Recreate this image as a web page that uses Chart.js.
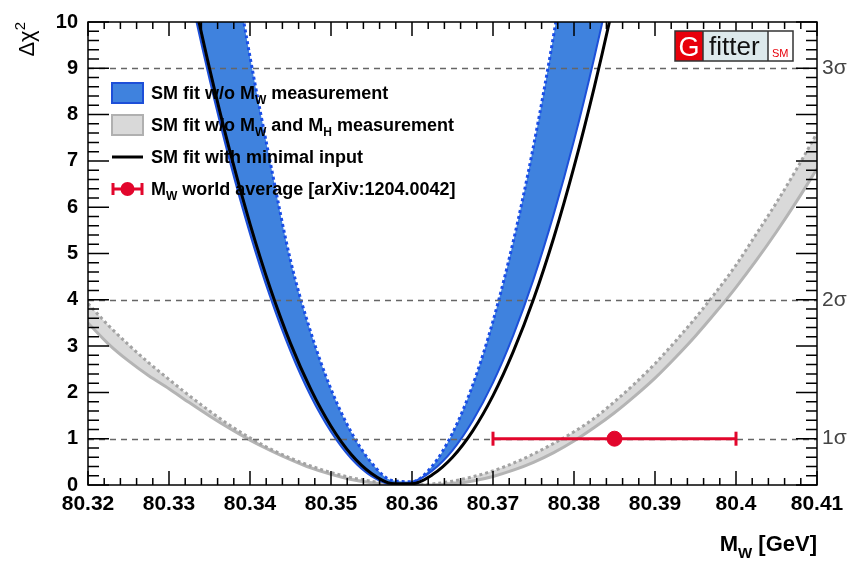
<!DOCTYPE html>
<html>
<head>
<meta charset="utf-8">
<script src="https://cdn.jsdelivr.net/npm/chart.js@4.4.1/dist/chart.umd.min.js"></script>
<style>
  html, body { margin: 0; padding: 0; background: #fff; }
  canvas { display: block; }
</style>
</head>
<body>
<canvas id="mwChi2Chart" width="854" height="561"></canvas>
<script>
// M_W scan points (GeV)
const mwGrid = [80.3200, 80.3225, 80.3250, 80.3275, 80.3300, 80.3325, 80.3350, 80.3375, 80.3400,
  80.3425, 80.3450, 80.3475, 80.3500, 80.3525, 80.3550, 80.3575, 80.3600, 80.3625, 80.3650,
  80.3675, 80.3700, 80.3725, 80.3750, 80.3775, 80.3800, 80.3825, 80.3850, 80.3875, 80.3900,
  80.3925, 80.3950, 80.3975, 80.4000, 80.4025, 80.4050, 80.4075, 80.4100];

// SM fit w/o M_W: solid (lower) and dotted (upper) edge of the blue band
const blueLower = [23.5, 20.6, 17.8, 15.3, 12.9, 10.73, 8.77, 7.0, 5.43, 4.06, 2.89, 1.92, 1.15, 0.57,
  0.19, 0.016, 0.06, 0.31, 0.75, 1.39, 2.21, 3.23, 4.44, 5.85, 7.44, 9.23, 11.2, 13.4, 15.7, 18.3,
  21.0, 24.0, 27.1, 30.4, 34.0, 37.7, 41.6];
const blueUpper = [38.4, 33.6, 29.2, 25.1, 21.3, 17.8, 14.6, 11.8, 9.25, 6.97, 4.85, 3.3, 2.07, 1.14,
  0.48, 0.1, 0.07, 0.41, 1.12, 2.16, 3.54, 5.26, 7.32, 9.73, 12.5, 15.6, 19.0, 22.7, 26.8, 31.3,
  36.0, 41.2, 46.6, 52.4, 58.5, 65.0, 71.9];

// SM fit w/o M_W and M_H
const greyLower = [3.5, 3.05, 2.68, 2.36, 2.08, 1.78, 1.49, 1.22, 0.97, 0.75, 0.55, 0.37, 0.23, 0.12,
  0.05, 0.01, 0.0, 0.0, 0.025, 0.087, 0.185, 0.32, 0.49, 0.70, 0.95, 1.24, 1.56, 1.92, 2.31, 2.75,
  3.22, 3.73, 4.27, 4.85, 5.47, 6.13, 6.83];
const greyUpper = [3.92, 3.45, 3.03, 2.64, 2.28, 1.93, 1.60, 1.29, 1.02, 0.78, 0.58, 0.41, 0.27, 0.16,
  0.08, 0.03, 0.0, 0.024, 0.083, 0.177, 0.306, 0.47, 0.67, 0.90, 1.15, 1.44, 1.80, 2.19, 2.62, 3.10,
  3.61, 4.16, 4.75, 5.42, 6.1, 6.83, 7.6];

// SM fit with minimal input
const minimalInput = [23.8, 20.8, 18.1, 15.5, 13.1, 10.97, 9.0, 7.22, 5.64, 4.25, 3.06, 2.07, 1.27,
  0.66, 0.25, 0.035, 0.026, 0.22, 0.6, 1.17, 1.93, 2.88, 4.01, 5.34, 6.87, 8.59, 10.5, 12.6, 14.9,
  17.3, 20.0, 22.8, 25.8, 29.0, 32.5, 36.0, 39.8];

// world average
const mwWorldAvg = 80.385;
const mwWorldErr = 0.015;
const mwWorldChi2 = 1;

const xTickValues = [80.32, 80.33, 80.34, 80.35, 80.36, 80.37, 80.38, 80.39, 80.40, 80.41];
const xTickLabels = ['80.32', '80.33', '80.34', '80.35', '80.36', '80.37', '80.38', '80.39', '80.4', '80.41'];
const yTickValues = [0, 1, 2, 3, 4, 5, 6, 7, 8, 9, 10];
const sigmaLevels = [1, 4, 9];
const sigmaLabels = ['1σ', '2σ', '3σ'];

const legendLabels = [
  [['SM fit w/o M', ''], ['W', 'sub'], [' measurement', '']],
  [['SM fit w/o M', ''], ['W', 'sub'], [' and M', ''], ['H', 'sub'], [' measurement', '']],
  [['SM fit with minimal input', '']],
  [['M', ''], ['W', 'sub'], [' world average [arXiv:1204.0042]', '']]
];

const FONT = '"Liberation Sans", Arial, Helvetica, sans-serif';
const RED = '#e2062c';
const BLUE_FILL = '#3f82de';
const BLUE_LINE = '#1d4fd8';
const GREY_FILL = '#d9d9d9';

const pts = ys => mwGrid.map((x, i) => ({ x: x, y: ys[i] }));

function richText(ctx, parts, x, y, size, weight, align) {
  const fontFor = p => weight + ' ' + (p[1] ? Math.round(size * 0.66) : size) + 'px ' + FONT;
  let w = 0;
  parts.forEach(p => { ctx.font = fontFor(p); w += ctx.measureText(p[0]).width; });
  let cx = align === 'right' ? x - w : x;
  parts.forEach(p => {
    ctx.font = fontFor(p);
    const dy = p[1] === 'sub' ? size * 0.3 : (p[1] === 'sup' ? -size * 0.42 : 0);
    ctx.fillText(p[0], cx, y + dy);
    cx += ctx.measureText(p[0]).width;
  });
}

const rootStyle = {
  id: 'rootStyle',
  afterDatasetDraw(chart, args) {
    if (args.index !== 3) return;
    // dashed 1/2/3 sigma lines
    const { ctx, chartArea: a } = chart;
    const ys = chart.scales.y;
    ctx.save();
    ctx.strokeStyle = '#666';
    ctx.lineWidth = 1.5;
    ctx.setLineDash([6, 5]);
    sigmaLevels.forEach(v => {
      const py = Math.round(ys.getPixelForValue(v)) + 0.5;
      ctx.beginPath(); ctx.moveTo(a.left, py); ctx.lineTo(a.right, py); ctx.stroke();
    });
    ctx.restore();
  },
  afterDatasetsDraw(chart) {
    const { ctx, chartArea: a } = chart;
    const xs = chart.scales.x, ys = chart.scales.y;
    ctx.save();
    ctx.strokeStyle = '#000';
    ctx.lineWidth = 1.5;
    ctx.strokeRect(a.left, a.top, a.right - a.left, a.bottom - a.top);
    ctx.beginPath();
    // x ticks every 0.002, major every 0.01
    for (let i = 0; i <= 45; i++) {
      const px = xs.getPixelForValue(80.32 + i * 0.002);
      const len = i % 5 === 0 ? 14 : 7;
      ctx.moveTo(px, a.bottom); ctx.lineTo(px, a.bottom - len);
      ctx.moveTo(px, a.top); ctx.lineTo(px, a.top + len);
    }
    // y ticks every 0.2, major every 1
    for (let i = 0; i <= 50; i++) {
      const py = ys.getPixelForValue(i * 0.2);
      const len = i % 5 === 0 ? 21 : 11;
      ctx.moveTo(a.left, py); ctx.lineTo(a.left + len, py);
      ctx.moveTo(a.right, py); ctx.lineTo(a.right - len, py);
    }
    ctx.stroke();
    ctx.restore();
  },
  afterDraw(chart) {
    const { ctx, chartArea: a } = chart;
    ctx.save();
    ctx.fillStyle = '#000';
    ctx.textBaseline = 'alphabetic';

    // axis titles
    richText(ctx, [['M', ''], ['W', 'sub'], [' [GeV]', '']], a.right, 551, 22, 'bold', 'right');
    ctx.save();
    ctx.translate(34, a.top);
    ctx.rotate(-Math.PI / 2);
    richText(ctx, [['Δχ', ''], ['2', 'sup']], 0, 0, 22, 'normal', 'right');
    ctx.restore();

    // legend
    const rowY = [93, 125, 157, 189];
    const bx = 112, bw = 31, tx = 151;
    ctx.fillStyle = BLUE_FILL; ctx.fillRect(bx, rowY[0] - 10, bw, 20);
    ctx.strokeStyle = BLUE_LINE; ctx.lineWidth = 2; ctx.strokeRect(bx, rowY[0] - 10, bw, 20);
    ctx.fillStyle = GREY_FILL; ctx.fillRect(bx, rowY[1] - 10, bw, 20);
    ctx.strokeStyle = '#b0b0b0'; ctx.strokeRect(bx, rowY[1] - 10, bw, 20);
    ctx.strokeStyle = '#000'; ctx.lineWidth = 3;
    ctx.beginPath(); ctx.moveTo(bx, rowY[2]); ctx.lineTo(bx + bw, rowY[2]); ctx.stroke();
    ctx.strokeStyle = RED; ctx.fillStyle = RED; ctx.lineWidth = 3;
    ctx.beginPath();
    ctx.moveTo(bx, rowY[3]); ctx.lineTo(bx + bw, rowY[3]);
    ctx.moveTo(bx + 1, rowY[3] - 6); ctx.lineTo(bx + 1, rowY[3] + 6);
    ctx.moveTo(bx + bw - 1, rowY[3] - 6); ctx.lineTo(bx + bw - 1, rowY[3] + 6);
    ctx.stroke();
    ctx.beginPath(); ctx.arc(bx + bw / 2, rowY[3], 7, 0, Math.PI * 2); ctx.fill();
    ctx.fillStyle = '#000';
    legendLabels.forEach((parts, i) => richText(ctx, parts, tx, rowY[i] + 6, 18, 'bold', 'left'));

    // Gfitter logo
    ctx.fillStyle = '#e8000b'; ctx.fillRect(675, 31, 28, 30);
    ctx.fillStyle = '#dde9ec'; ctx.fillRect(703, 31, 65, 30);
    ctx.fillStyle = '#fff'; ctx.fillRect(768, 31, 25, 30);
    ctx.strokeStyle = '#333'; ctx.lineWidth = 1.5;
    ctx.strokeRect(675, 31, 118, 30);
    ctx.beginPath(); ctx.moveTo(703, 31); ctx.lineTo(703, 61); ctx.moveTo(768, 31); ctx.lineTo(768, 61); ctx.stroke();
    ctx.fillStyle = '#fff'; ctx.font = '27px ' + FONT; ctx.textAlign = 'center';
    ctx.fillText('G', 689, 56);
    ctx.fillStyle = '#111'; ctx.font = '26px ' + FONT; ctx.textAlign = 'left';
    ctx.fillText('fitter', 709, 55);
    ctx.fillStyle = '#e8000b'; ctx.font = '11px ' + FONT;
    ctx.fillText('SM', 772, 57);
    ctx.restore();
  }
};

const ctx = document.getElementById('mwChi2Chart').getContext('2d');
const mwChi2Chart = new Chart(ctx, {
  type: 'line',
  data: {
    datasets: [{
      label: 'M_W world average',
      data: [{ x: mwWorldAvg, y: mwWorldChi2 }],
      showLine: false,
      pointRadius: 7.5,
      pointBackgroundColor: RED,
      pointBorderColor: RED,
      order: 0
    }, {
      label: 'M_W error',
      data: [{ x: mwWorldAvg - mwWorldErr, y: mwWorldChi2 }, { x: mwWorldAvg + mwWorldErr, y: mwWorldChi2 }],
      borderColor: RED,
      borderWidth: 3,
      pointStyle: 'line',
      rotation: 90,
      pointRadius: 7,
      pointBorderWidth: 3,
      pointBorderColor: RED,
      order: 1
    }, {
      label: 'SM fit with minimal input',
      data: pts(minimalInput),
      borderColor: '#000',
      borderWidth: 3,
      pointRadius: 0,
      cubicInterpolationMode: 'monotone',
      order: 2
    }, {
      label: 'SM fit w/o M_W (upper)',
      data: pts(blueUpper),
      borderColor: '#1a4ee6',
      borderWidth: 3,
      borderDash: [3, 3],
      pointRadius: 0,
      cubicInterpolationMode: 'monotone',
      order: 3
    }, {
      label: 'SM fit w/o M_W measurement',
      data: pts(blueLower),
      borderColor: BLUE_LINE,
      borderWidth: 2,
      backgroundColor: BLUE_FILL,
      fill: '-1',
      pointRadius: 0,
      cubicInterpolationMode: 'monotone',
      order: 4
    }, {
      label: 'SM fit w/o M_W and M_H (upper)',
      data: pts(greyUpper),
      borderColor: '#a3a3a3',
      borderWidth: 3,
      borderDash: [3, 3],
      pointRadius: 0,
      cubicInterpolationMode: 'monotone',
      order: 5
    }, {
      label: 'SM fit w/o M_W and M_H measurement',
      data: pts(greyLower),
      borderColor: '#b4b4b4',
      borderWidth: 3,
      backgroundColor: GREY_FILL,
      fill: '-1',
      pointRadius: 0,
      cubicInterpolationMode: 'monotone',
      order: 6
    }]
  },
  options: {
    responsive: false,
    animation: false,
    layout: { padding: { top: 13, left: 0, right: 0, bottom: 0 } },
    plugins: {
      legend: { display: false },
      tooltip: { enabled: false }
    },
    scales: {
      x: {
        type: 'linear',
        min: 80.32,
        max: 80.41,
        afterBuildTicks: s => { s.ticks = xTickValues.map(v => ({ value: v })); },
        afterFit: s => { s.height = 76; },
        grid: { display: false, drawTicks: false },
        border: { display: false },
        ticks: {
          autoSkip: false,
          maxRotation: 0,
          padding: 7,
          color: '#000',
          font: { family: FONT, size: 21, weight: 'bold' },
          callback: (v, i) => xTickLabels[i]
        }
      },
      y: {
        type: 'linear',
        position: 'left',
        min: 0,
        max: 10,
        afterBuildTicks: s => { s.ticks = yTickValues.map(v => ({ value: v })); },
        afterFit: s => { s.width = 88; },
        grid: { display: false, drawTicks: false },
        border: { display: false },
        ticks: {
          padding: 10,
          color: '#000',
          font: { family: FONT, size: 20, weight: 'bold' }
        }
      },
      y2: {
        type: 'linear',
        position: 'right',
        min: 0,
        max: 10,
        afterBuildTicks: s => { s.ticks = sigmaLevels.map(v => ({ value: v })); },
        afterFit: s => { s.width = 37; },
        grid: { display: false, drawTicks: false },
        border: { display: false },
        ticks: {
          padding: 5,
          color: '#444',
          font: { family: FONT, size: 21 },
          callback: v => sigmaLabels[sigmaLevels.indexOf(v)]
        }
      }
    }
  },
  plugins: [rootStyle]
});
</script>
</body>
</html>
